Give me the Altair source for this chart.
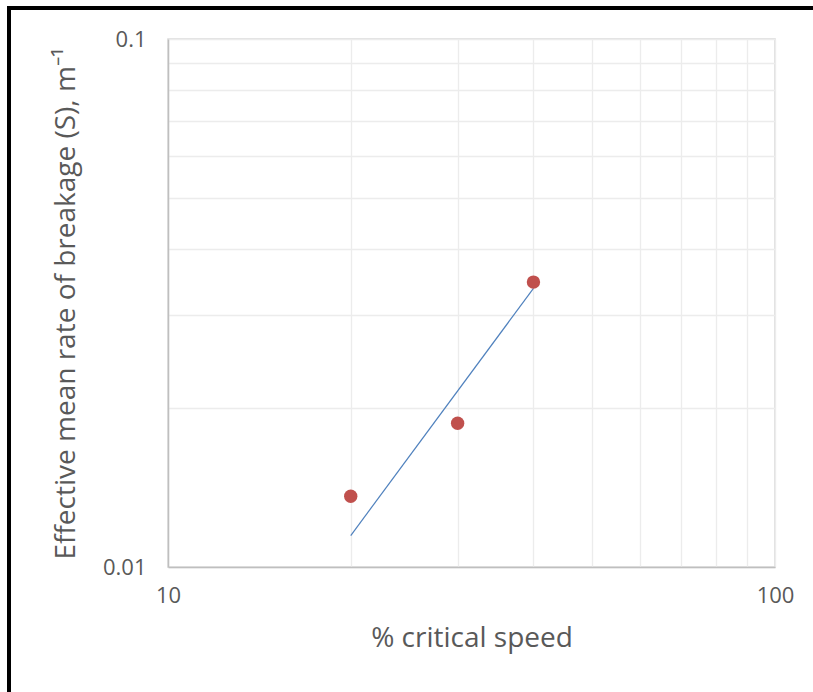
import altair as alt
import pandas as pd

# Measured data
speed = [20, 30, 40]
rate = [0.01361, 0.01872, 0.03464]

# Trend line (power law) end points
trend_speed = [20, 40]
trend_rate = [0.01147, 0.0337]

x_ticks = [10, 20, 30, 40, 50, 60, 70, 80, 90, 100]
y_ticks = [0.01, 0.02, 0.03, 0.04, 0.05, 0.06, 0.07, 0.08, 0.09, 0.1]

pts = pd.DataFrame({"speed": speed, "rate": rate})
trend = pd.DataFrame({"speed": trend_speed, "rate": trend_rate})

FONT = "Open Sans"
LEFT, TOP, W, H = 168, 39, 607, 528

xs = alt.Scale(type="log", domain=[10, 100], nice=False)
ys = alt.Scale(type="log", domain=[0.01, 0.1], nice=False)

x_axis = alt.Axis(
    values=x_ticks,
    labelExpr="datum.value == 10 ? '10' : (datum.value == 100 ? '100' : '')",
    title="% critical speed",
    grid=True, gridColor="#ececec", gridWidth=1.3,
    ticks=False, domainColor="#bfbfbf", domainWidth=1.5,
    labelFont=FONT, labelFontSize=22, labelColor="#595959", labelPadding=18,
    labelFlush=False, labelOverlap=False,
    titleFont=FONT, titleFontSize=28, titleFontWeight="normal", titleColor="#595959",
    titlePadding=18,
)
y_axis = alt.Axis(
    values=y_ticks,
    labelExpr="datum.value == 0.01 ? '0.01' : (datum.value == 0.1 ? '0.1' : '')",
    title="Effective mean rate of breakage (S), m⁻¹",
    grid=True, gridColor="#ececec", gridWidth=1.3,
    ticks=False, domainColor="#bfbfbf", domainWidth=1.5,
    labelFont=FONT, labelFontSize=22, labelColor="#595959", labelPadding=22,
    labelFlush=False, labelOverlap=False,
    titleFont=FONT, titleFontSize=28, titleFontWeight="normal", titleColor="#595959",
    titlePadding=22,
)

points = alt.Chart(pts).mark_circle(size=180, color="#C0504D", opacity=1).encode(
    x=alt.X("speed:Q", scale=xs, axis=x_axis),
    y=alt.Y("rate:Q", scale=ys, axis=y_axis),
)

line = alt.Chart(trend).mark_line(color="#4F81BD", strokeWidth=1.2).encode(
    x=alt.X("speed:Q", scale=xs),
    y=alt.Y("rate:Q", scale=ys),
)

frame_left = alt.Chart(pd.DataFrame({"a": [0]})).mark_rule(color="black", strokeWidth=4).encode(
    x=alt.value(9 - LEFT), x2=alt.value(9 - LEFT),
    y=alt.value(6 - TOP), y2=alt.value(692 - TOP),
)
frame_top = alt.Chart(pd.DataFrame({"a": [0]})).mark_rule(color="black", strokeWidth=4).encode(
    x=alt.value(7 - LEFT), x2=alt.value(813 - LEFT),
    y=alt.value(8 - TOP), y2=alt.value(8 - TOP),
)

chart = alt.layer(line, points, frame_left, frame_top).properties(
    width=W, height=H,
    autosize=alt.AutoSizeParams(type="none"),
    padding={"left": LEFT, "top": TOP, "right": 813 - LEFT - W, "bottom": 692 - TOP - H},
    background="white",
).configure_view(stroke="#d9d9d9", strokeWidth=1.5)

chart.save("out.html", embed_options={"renderer": "svg", "actions": False})
